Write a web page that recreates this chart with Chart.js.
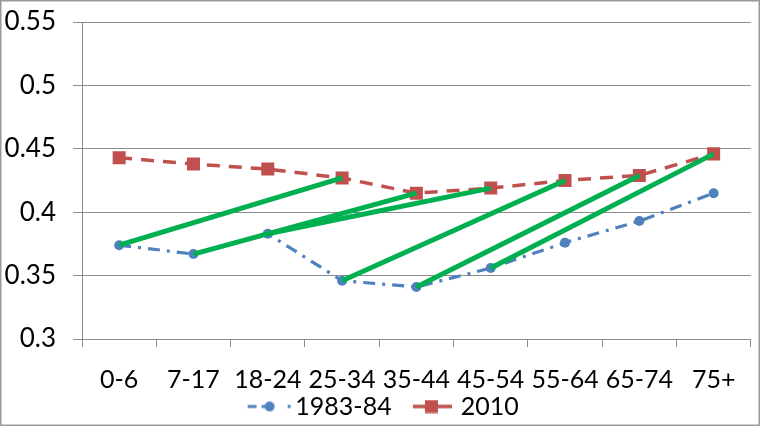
<!DOCTYPE html>
<html lang="en">
<head>
<meta charset="UTF-8">
<title>Chart</title>
<script src="https://cdn.jsdelivr.net/npm/chart.js@4.4.1/dist/chart.umd.min.js"></script>
<style>
  html, body { margin: 0; padding: 0; background: #fff; }
  .wrap { position: relative; width: 760px; height: 426px; }
</style>
</head>
<body>
<div class="wrap"><canvas id="chart"></canvas></div>
<script>
  var ageGroups = ['0-6', '7-17', '18-24', '25-34', '35-44', '45-54', '55-64', '65-74', '75+'];
  var values1983 = [0.374, 0.367, 0.383, 0.346, 0.341, 0.356, 0.376, 0.393, 0.415];
  var values2010 = [0.443, 0.438, 0.434, 0.427, 0.415, 0.419, 0.425, 0.429, 0.446];
  var seriesNames = ['1983-84', '2010'];
  var cohortShift = 3; // 1983-84 group i -> 2010 group i+3
  var yMin = 0.3, yMax = 0.55, yStep = 0.05;

  var BLUE = '#4F81BD', RED = '#C0504D', GREEN = '#00B050', GRID = '#8c8c8c';
  var FONT = 'Lato, "Open Sans", sans-serif';

  // legend samples: line + marker, drawn in the right part of a 62px canvas
  function sample1983(){
    var c = document.createElement('canvas');
    c.width = 62; c.height = 14;
    var ctx = c.getContext('2d');
    ctx.strokeStyle = BLUE; ctx.fillStyle = BLUE; ctx.lineWidth = 3;
    ctx.beginPath(); ctx.moveTo(18, 7); ctx.lineTo(27, 7); ctx.stroke();
    ctx.beginPath(); ctx.moveTo(32, 7); ctx.lineTo(38, 7); ctx.stroke();
    ctx.beginPath(); ctx.arc(40, 7, 5, 0, Math.PI*2); ctx.fill();
    ctx.beginPath(); ctx.moveTo(58, 7); ctx.lineTo(61, 7); ctx.stroke();
    return c;
  }
  function sample2010(){
    var c = document.createElement('canvas');
    c.width = 62; c.height = 14;
    var ctx = c.getContext('2d');
    ctx.strokeStyle = RED; ctx.fillStyle = RED; ctx.lineWidth = 3.5;
    ctx.beginPath(); ctx.moveTo(18, 7); ctx.lineTo(57, 7); ctx.stroke();
    ctx.fillRect(30, 0.5, 13, 13);
    return c;
  }
  var legendSamples = [sample1983(), sample2010()];

  // green cohort lines built from the two series
  var cohortSets = [];
  for (var i = 0; i + cohortShift < ageGroups.length; i++) {
    cohortSets.push({
      label: 'cohort' + i,
      cohort: true,
      data: [
        { x: ageGroups[i], y: values1983[i] },
        { x: ageGroups[i + cohortShift], y: values2010[i + cohortShift] }
      ],
      borderColor: GREEN,
      borderWidth: 5,
      pointRadius: 0,
      fill: false,
      order: 0
    });
  }

  var layoutPlugin = {
    id: 'layoutTweaks',
    afterLayout: function(chart){
      // nudge the legend a little lower, and let the x labels run into its box
      chart.legend.top += 3;
      chart.legend.bottom += 3;
      chart.scales.x.bottom = chart.height;
    },
    afterDraw: function(chart){
      var ctx = chart.ctx;
      ctx.save();
      ctx.strokeStyle = '#9a9a9a';
      ctx.lineWidth = 1.5;
      ctx.strokeRect(0.75, 0.75, chart.width - 1.5, chart.height - 1.5);
      ctx.restore();
    }
  };

  new Chart(document.getElementById('chart'), {
    type: 'line',
    data: {
      labels: ageGroups,
      datasets: [
        {
          label: seriesNames[0],
          data: values1983,
          borderColor: BLUE,
          backgroundColor: BLUE,
          borderWidth: 3.2,
          borderDash: [12, 7, 3, 7],
          pointStyle: 'circle',
          pointRadius: 5,
          pointBorderWidth: 0,
          fill: false,
          order: 1
        },
        {
          label: seriesNames[1],
          data: values2010,
          borderColor: RED,
          backgroundColor: RED,
          borderWidth: 3.5,
          borderDash: [13, 9],
          pointStyle: 'rect',
          pointRadius: 9.2,
          pointBorderWidth: 0,
          fill: false,
          order: 1
        }
      ].concat(cohortSets)
    },
    options: {
      responsive: true,
      maintainAspectRatio: false,
      animation: false,
      layout: { padding: { top: 22, right: 3, bottom: 0, left: 0 } },
      scales: {
        x: {
          offset: true,
          afterFit: function(scale){
            scale.height = 40;
            scale.paddingLeft = 0;
            scale.paddingRight = 0;
          },
          grid: { display: true, drawOnChartArea: false, drawTicks: true, tickLength: 8, color: GRID, offset: true },
          border: { color: GRID },
          ticks: { color: '#000', font: { family: FONT, size: 25 }, padding: 18, maxRotation: 0, autoSkip: false }
        },
        y: {
          min: yMin,
          max: yMax,
          afterFit: function(scale){
            scale.width = 82;
            scale.paddingTop = 0;
            scale.paddingBottom = 0;
          },
          grid: { color: GRID, tickLength: 9 },
          border: { color: GRID },
          ticks: {
            stepSize: yStep,
            color: '#000',
            font: { family: FONT, size: 26 },
            padding: 17,
            callback: function(v){ return String(parseFloat(v.toFixed(2))); }
          }
        }
      },
      plugins: {
        tooltip: { enabled: false },
        legend: {
          position: 'bottom',
          labels: {
            color: '#000',
            font: { family: FONT, size: 25 },
            usePointStyle: true,
            pointStyleWidth: 44.5,
            padding: 12,
            filter: function(item, data){ return !data.datasets[item.datasetIndex].cohort; },
            generateLabels: function(chart){
              var items = Chart.defaults.plugins.legend.labels.generateLabels(chart);
              items.forEach(function(it){
                if (it.datasetIndex < legendSamples.length) it.pointStyle = legendSamples[it.datasetIndex];
              });
              return items;
            }
          }
        }
      }
    },
    plugins: [layoutPlugin]
  });
</script>
</body>
</html>
